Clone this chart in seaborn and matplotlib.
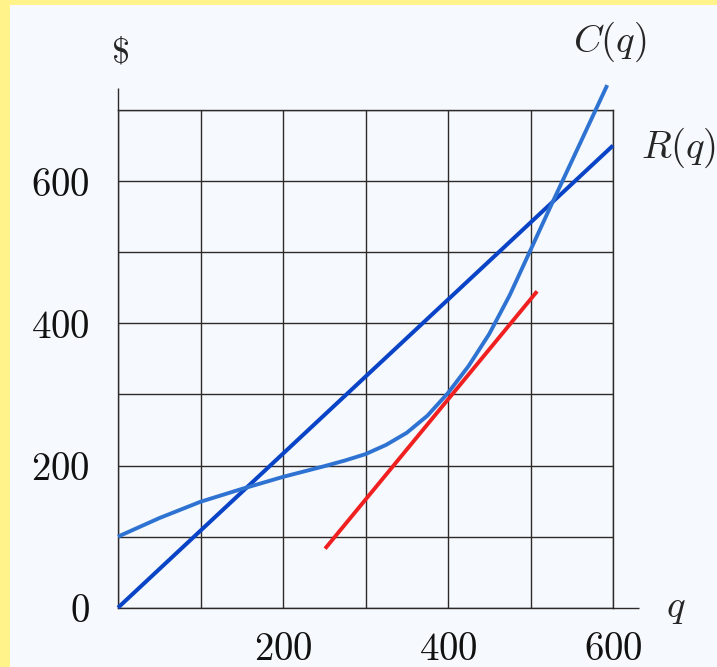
import matplotlib
matplotlib.use("Agg")
import matplotlib.pyplot as plt
import seaborn as sns
import pandas as pd
from matplotlib.patches import Rectangle

# ---- data ----
cost_q = [0, 50, 100, 150, 200, 250, 275, 300, 325, 350, 375, 400, 425, 450, 475, 500, 525, 550, 593]
cost_v = [100, 126, 149, 167, 184, 199, 207, 216, 229, 246, 270, 302, 340, 385, 440, 503, 566, 628, 735]
rev_q = [0, 600]
rev_v = [0, 650]
tan_q = [251, 508]
tan_v = [83, 445]
x_ticks = [0, 100, 200, 300, 400, 500, 600]
x_labels = ["", "", "200", "", "400", "", "600"]
y_ticks = [0, 100, 200, 300, 400, 500, 600, 700]
y_labels = ["0", "", "200", "", "400", "", "600", ""]

sns.set_style("white")
plt.rcParams["mathtext.fontset"] = "cm"
plt.rcParams["font.family"] = ["DejaVu Serif"]

fig = plt.figure(figsize=(7.17, 6.67), dpi=100)
fig.patch.set_facecolor("#FFF38A")
fig.patches.append(Rectangle((10 / 717, 0), 1, 1 - 5 / 667, transform=fig.transFigure,
                             facecolor="#F6F9FD", edgecolor="none", zorder=-10))

ax = fig.add_axes([118 / 717, 1 - 607.7 / 667, 495 / 717, 497.7 / 667])
ax.set_zorder(1)
ax.set_facecolor("none")
ax.set_xlim(0, 600)
ax.set_ylim(0, 700)

gcol = "#2e2a2a"
ax.set_xticks(x_ticks)
ax.set_xticklabels([f"${t}$" if t else "" for t in x_labels])
ax.set_yticks(y_ticks)
ax.set_yticklabels([f"${t}$" if t else "" for t in y_labels])
ax.tick_params(axis="both", length=0, labelsize=28, colors="#111111")
ax.tick_params(axis="x", pad=17)
ax.tick_params(axis="y", pad=20)
ax.grid(True, color=gcol, lw=1.0)
for s in ax.spines.values():
    s.set_color(gcol)
    s.set_linewidth(1.0)

# extended axes
ax.plot([0, 0], [700, 731], color=gcol, lw=1.0, clip_on=False)
ax.plot([600, 631], [0, 0], color=gcol, lw=1.0, clip_on=False)

df_c = pd.DataFrame({"q": cost_q, "v": cost_v})
df_r = pd.DataFrame({"q": rev_q, "v": rev_v})
df_t = pd.DataFrame({"q": tan_q, "v": tan_v})

sns.lineplot(data=df_r, x="q", y="v", ax=ax, color="#0a44c6", lw=2.9, zorder=4)
sns.lineplot(data=df_c, x="q", y="v", ax=ax, color="#2f73d2", lw=2.8, zorder=5)
sns.lineplot(data=df_t, x="q", y="v", ax=ax, color="#f02020", lw=2.8, zorder=3)
for ln in ax.lines:
    ln.set_clip_on(False)
    ln.set_solid_capstyle("butt")
    ln.set_solid_joinstyle("round")
ax.set_xlabel("")
ax.set_ylabel("")

fig.text(120 / 717, 1 - 52 / 667, r"$\$$", fontsize=26, ha="center", va="center")
fig.text(610 / 717, 1 - 42 / 667, r"$C(q)$", fontsize=28, ha="center", va="center")
fig.text(641 / 717, 1 - 148 / 667, r"$R(q)$", fontsize=28, ha="left", va="center")
fig.text(676 / 717, 1 - 607 / 667, r"$q$", fontsize=28, ha="center", va="center")

fig.savefig("out.png", dpi=100)
